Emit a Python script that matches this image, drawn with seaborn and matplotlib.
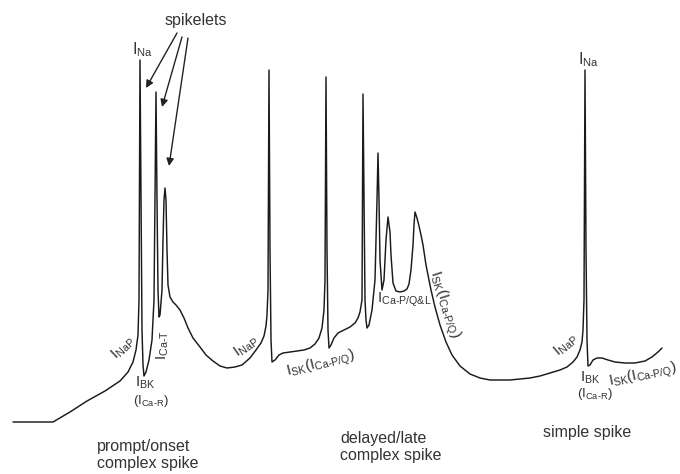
import matplotlib
matplotlib.use("Agg")
import matplotlib.pyplot as plt
import seaborn as sns
import pandas as pd

# ---- trace samples (x: time axis, y: screen depth, inverted axis)
trace_x = [13, 53, 70, 87, 105, 120, 128, 133, 136, 138, 139, 140, 141, 142, 143, 144,
           146, 149, 152, 154, 155, 156, 157, 158, 159, 160, 162, 163, 164, 165, 166, 167,
           168, 170, 173, 176, 180, 184, 188, 193, 200, 206, 213, 220, 227, 235, 242, 250,
           256, 261, 264, 266, 267, 268, 269, 270, 271, 272, 275, 279, 283, 290, 297, 304,
           310, 315, 319, 322, 324, 325, 326, 327, 328, 329, 331, 334, 338, 344, 350, 355,
           358, 360, 362, 363, 364, 365, 366, 367, 369, 372, 375, 377, 378, 379, 380, 382,
           384, 386, 388, 390, 391, 393, 396, 400, 404, 407, 409, 411, 413, 414, 415, 417,
           419, 421, 423, 426, 431, 435, 440, 446, 452, 460, 470, 480, 490, 500, 510, 520,
           530, 540, 550, 560, 567, 573, 577, 580, 582, 583, 584, 585, 586, 587, 588, 590,
           593, 597, 602, 608, 615, 625, 635, 645, 652, 658, 662]
trace_y = [422, 422, 412, 401, 391, 381, 372, 362, 350, 335, 300, 60, 200, 330, 365, 376,
           372, 360, 340, 300, 200, 92, 200, 290, 317, 315, 290, 240, 200, 188, 200, 250,
           285, 297, 302, 305, 310, 318, 328, 338, 347, 355, 361, 366, 368, 367, 365, 358,
           350, 343, 336, 326, 315, 290, 70, 250, 340, 362, 360, 355, 353, 352, 351, 350,
           348, 344, 338, 328, 310, 280, 77, 250, 330, 348, 345, 338, 333, 330, 327, 323,
           318, 312, 300, 94, 200, 300, 320, 328, 325, 310, 280, 200, 153, 200, 260, 290,
           280, 240, 217, 232, 255, 283, 291, 292, 291, 289, 284, 270, 245, 225, 212, 218,
           226, 235, 245, 265, 290, 307, 325, 342, 355, 366, 374, 378, 380, 380, 380, 379,
           378, 376, 373, 370, 367, 362, 357, 350, 342, 330, 300, 70, 250, 340, 366, 365,
           360, 358, 358, 360, 362, 363, 363, 361, 357, 352, 348]

# ---- labels
phase_labels = ["prompt/onset\ncomplex spike", "delayed/late\ncomplex spike", "simple spike"]
annotation_title = "spikelets"

sns.set_theme(style="white")
plt.rcParams["font.family"] = ["Liberation Sans", "DejaVu Sans"]
plt.rcParams["mathtext.fontset"] = "custom"
plt.rcParams["mathtext.rm"] = "Liberation Sans"
plt.rcParams["mathtext.it"] = "Liberation Sans:italic"
plt.rcParams["mathtext.bf"] = "Liberation Sans:bold"

fig = plt.figure(figsize=(6.8, 4.74), dpi=100)
ax = fig.add_axes([0, 0, 1, 1])

df = pd.DataFrame({"t": trace_x, "v": trace_y})
sns.lineplot(data=df, x="t", y="v", sort=False, estimator=None, ax=ax,
             color="#1a1a1a", linewidth=1.05)

ax.set_xlim(0, 680)
ax.set_ylim(474, 0)
ax.axis("off")

tc = "#333333"
fs = 11.5

def lab(x, y, s, rot=0, size=fs, ha="center", va="center"):
    ax.text(x, y, s, rotation=rot, fontsize=size, color=tc, ha=ha, va=va,
            rotation_mode="anchor")

# spikelets + arrows
lab(196, 20, annotation_title)
arrow_kw = dict(arrowstyle="-|>", color="#222222", lw=1.0, mutation_scale=11,
                shrinkA=0, shrinkB=0)
ax.annotate("", xy=(146, 88), xytext=(177, 33), arrowprops=arrow_kw)
ax.annotate("", xy=(162, 107), xytext=(182, 37), arrowprops=arrow_kw)
ax.annotate("", xy=(169, 166), xytext=(188, 38), arrowprops=arrow_kw)

# current labels
lab(142, 50, r"I$_{\text{Na}}$")
lab(588, 60, r"I$_{\text{Na}}$")
lab(123, 348, r"I$_{\text{NaP}}$", rot=43, size=11)
lab(246, 347, r"I$_{\text{NaP}}$", rot=35, size=11)
lab(566, 345, r"I$_{\text{NaP}}$", rot=40, size=11)
lab(163, 345, r"I$_{\text{Ca-T}}$", rot=90, size=11)
lab(145, 383, r"I$_{\text{BK}}$", size=11)
lab(151, 401, r"(I$_{\text{Ca-R}}$)", size=9.5)
lab(590, 378, r"I$_{\text{BK}}$", size=11)
lab(595, 394, r"(I$_{\text{Ca-R}}$)", size=9.5)
lab(321, 364, r"I$_{\text{SK}}$(I$_{\text{Ca-P/Q}}$)", rot=14, size=11)
lab(643, 375, r"I$_{\text{SK}}$(I$_{\text{Ca-P/Q}}$)", rot=12, size=10.8)
lab(444, 305, r"I$_{\text{SK}}$(I$_{\text{Ca-P/Q}}$)", rot=-72, size=11)
lab(377, 300, r"I$_{\text{Ca-P/Q&L}}$", ha="left", size=11)

# phase labels
ax.text(97, 455, phase_labels[0], fontsize=fs, color=tc, ha="left", va="center",
        linespacing=1.15)
ax.text(340, 447, phase_labels[1], fontsize=fs, color=tc, ha="left", va="center",
        linespacing=1.15)
ax.text(543, 433, phase_labels[2], fontsize=fs, color=tc, ha="left", va="center")

fig.savefig("out.png", dpi=100)
